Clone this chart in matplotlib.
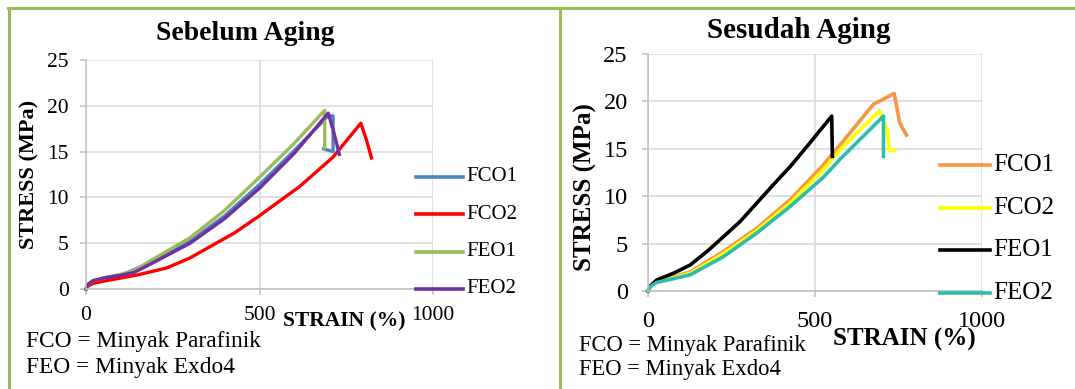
import matplotlib.pyplot as plt
from matplotlib.lines import Line2D

plt.rcParams['font.family'] = ['Liberation Serif', 'DejaVu Serif']

# --- data: Sebelum Aging ---
fco1_x = [0, 5, 20, 50, 100, 200, 300, 400, 500, 600, 698, 712, 712, 685]
fco1_y = [0, 0.4, 0.8, 1.1, 1.5, 3.1, 5.2, 8.0, 11.4, 15.1, 18.9, 18.9, 15.0, 15.3]
fco2_x = [0, 5, 20, 50, 100, 150, 233, 300, 427, 500, 616, 712, 792, 808, 823]
fco2_y = [0, 0.3, 0.6, 0.85, 1.2, 1.55, 2.3, 3.4, 6.1, 8.0, 11.2, 14.4, 18.1, 16.3, 14.3]
feo1_x = [0, 5, 20, 50, 100, 138, 200, 300, 400, 500, 600, 688, 688]
feo1_y = [0, 0.5, 0.9, 1.2, 1.6, 2.0, 3.4, 5.6, 8.6, 12.2, 15.9, 19.5, 15.4]
feo2_x = [0, 5, 20, 50, 100, 138, 200, 300, 400, 500, 600, 698, 715, 730]
feo2_y = [0, 0.5, 0.9, 1.2, 1.5, 1.8, 3.0, 5.0, 7.7, 11.0, 14.8, 19.2, 17.0, 14.7]

# --- data: Sesudah Aging ---
afco1_x = [0, 6, 26, 76, 126, 225, 325, 425, 525, 575, 675, 719, 737, 754, 774]
afco1_y = [0, 0.5, 1.0, 1.5, 2.0, 4.15, 6.6, 9.6, 13.3, 15.4, 19.7, 20.5, 20.85, 17.7, 16.45]
afco2_x = [0, 6, 26, 76, 126, 225, 325, 425, 525, 575, 692, 716, 722, 739]
afco2_y = [0, 0.45, 0.95, 1.4, 1.85, 3.9, 6.35, 9.25, 12.8, 14.9, 19.0, 17.0, 14.8, 14.8]
afeo1_x = [0, 6, 26, 76, 126, 176, 225, 275, 325, 375, 425, 475, 550, 552]
afeo1_y = [0, 0.5, 1.16, 1.87, 2.74, 4.15, 5.7, 7.3, 9.25, 11.2, 13.1, 15.2, 18.45, 14.2]
afeo2_x = [0, 6, 26, 76, 126, 225, 325, 425, 525, 575, 705, 705]
afeo2_y = [0, 0.45, 0.9, 1.3, 1.7, 3.6, 6.1, 8.9, 12.0, 13.9, 18.45, 14.2]

labels = ['FCO1', 'FCO2', 'FEO1', 'FEO2']
left_colors = ['#4F81BD', '#FF0000', '#9BBB59', '#7030A0']
right_colors = ['#F79646', '#FFFF00', '#000000', '#2DBDAD']

W, H = 1075, 389
fig = plt.figure(figsize=(W / 100, H / 100), dpi=100)


def rect(l, r, t, b):
    return [l / W, 1 - b / H, (r - l) / W, (b - t) / H]


def style(ax, fs, pad):
    ax.set_xlim(0, 1000)
    ax.set_ylim(0, 25)
    ax.set_xticks([0, 500, 1000])
    ax.set_yticks(range(0, 26, 5))
    ax.grid(color='#D9D9D9', lw=1.1)
    ax.set_axisbelow(True)
    for s in ['top', 'right']:
        ax.spines[s].set_visible(False)
    for s in ['left', 'bottom']:
        ax.spines[s].set_color('#BFBFBF')
        ax.spines[s].set_linewidth(1.1)
    ax.tick_params(length=4.5, width=1.1, color='#BFBFBF', labelsize=fs, pad=pad)


def legend(colors, x0, x1, y0, step, fs):
    for i, (lab, c) in enumerate(zip(labels, colors)):
        y = 1 - (y0 + i * step) / H
        fig.add_artist(Line2D([x0 / W, x1 / W], [y, y], color=c, lw=2.6))
        fig.text((x1 + 3) / W, y, lab, fontsize=fs, va='center', ha='left')


def frame_line(xs, ys):
    fig.add_artist(Line2D([x / W for x in xs], [1 - y / H for y in ys],
                          color='#9BBB59', lw=2.2))


frame_line([8, W], [8, 8])
frame_line([9, 9], [8, H])
frame_line([560, 560], [8, H])

# left panel
ax1 = fig.add_axes(rect(86, 433, 60, 289))
style(ax1, 15.5, 8)
for xs, ys, c in zip([fco1_x, fco2_x, feo1_x, feo2_x],
                     [fco1_y, fco2_y, feo1_y, feo2_y], left_colors):
    ax1.plot(xs, ys, color=c, lw=2.4, clip_on=False)
legend(left_colors, 416, 463, 177, 37.3, 15)
fig.text(245 / W, 1 - 33 / H, 'Sebelum Aging', fontsize=20, fontweight='bold',
         ha='center', va='center')
fig.text(29 / W, 1 - 174 / H, 'STRESS (MPa)', fontsize=16, fontweight='bold',
         rotation=90, ha='center', va='center')
fig.text(344 / W, 1 - 321 / H, 'STRAIN (%)', fontsize=15.5, fontweight='bold',
         ha='center', va='center')
fig.text(26 / W, 1 - 341 / H, 'FCO = Minyak Parafinik', fontsize=16.8, va='center')
fig.text(26 / W, 1 - 368 / H, 'FEO = Minyak Exdo4', fontsize=16.8, va='center')

# right panel
ax2 = fig.add_axes(rect(648, 982, 54, 291))
style(ax2, 17.5, 10)
for xs, ys, c in zip([afco1_x, afco2_x, afeo1_x, afeo2_x],
                     [afco1_y, afco2_y, afeo1_y, afeo2_y], right_colors):
    ax2.plot(xs, ys, color=c, lw=2.6, clip_on=False)
legend(right_colors, 940, 990, 165, 42.7, 18)
fig.text(799 / W, 1 - 30 / H, 'Sesudah Aging', fontsize=21, fontweight='bold',
         ha='center', va='center')
fig.text(585 / W, 1 - 187 / H, 'STRESS (MPa)', fontsize=18, fontweight='bold',
         rotation=90, ha='center', va='center')
fig.text(904 / W, 1 - 339 / H, 'STRAIN (%)', fontsize=18, fontweight='bold',
         ha='center', va='center')
fig.text(579 / W, 1 - 345 / H, 'FCO = Minyak Parafinik', fontsize=16.3, va='center')
fig.text(579 / W, 1 - 370 / H, 'FEO = Minyak Exdo4', fontsize=16.3, va='center')

fig.savefig('out.png', dpi=100)
